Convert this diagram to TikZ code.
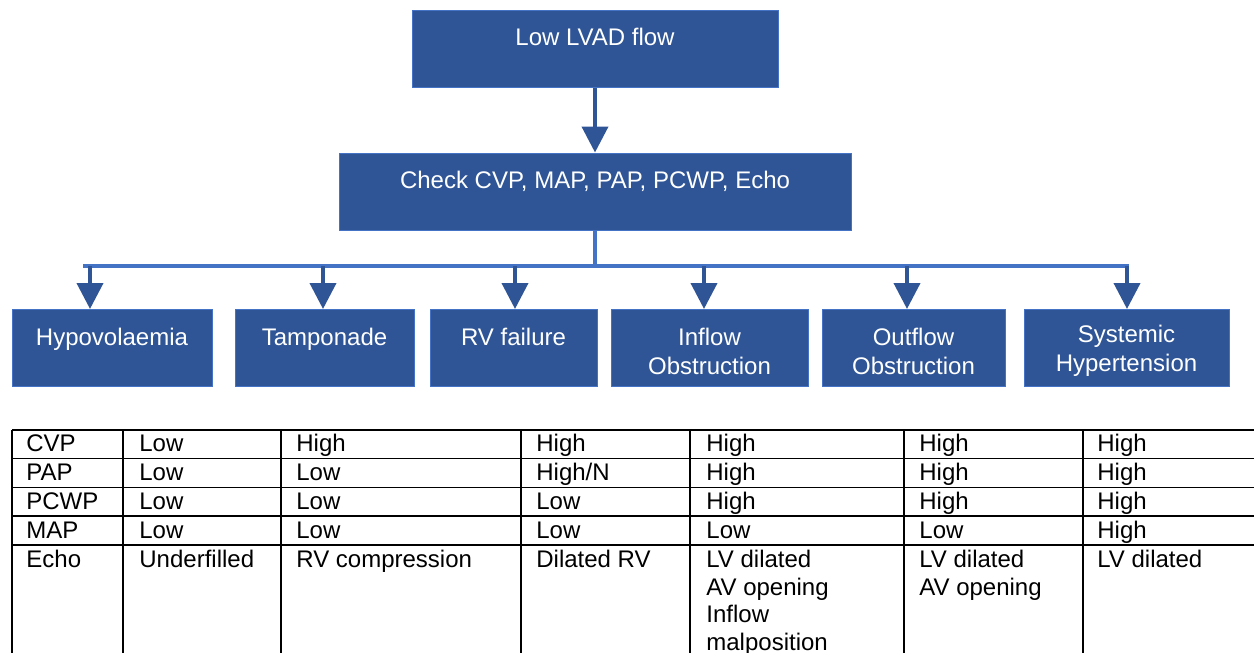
\documentclass[tikz,border=0pt]{standalone}
\usepackage{fontspec}
\setmainfont{Liberation Sans}
\usetikzlibrary{arrows.meta}
\definecolor{boxblue}{HTML}{2F5597}
\definecolor{linkblue}{HTML}{4472C4}
\newcommand{\topgap}{\rule{0pt}{11.8pt}}
\tikzset{
  box/.style={draw=linkblue, line width=0.5pt, fill=boxblue, text=white, align=center,
    inner sep=0pt, minimum height=38.5pt, font=\fontsize{12}{14.5}\selectfont},
  arr/.style={draw=boxblue, line width=2pt, -{Triangle[width=13pt,length=13pt]}},
  bus/.style={draw=linkblue, line width=1.6pt},
  grid/.style={draw=black, line width=0.9pt},
  cell/.style={anchor=base west, inner sep=0pt, font=\fontsize{12}{13.8}\selectfont},
}
\begin{document}
\begin{tikzpicture}[x=0.5pt,y=-0.5pt]
\useasboundingbox (0,0) rectangle (1254,653);
% flow chart
\node (low) at (595,48.5) [box,minimum width=183pt]{\topgap Low LVAD flow\\\phantom{X}};
\node (check) at (595,191.5) [box,minimum width=256pt]{\topgap Check CVP, MAP, PAP, PCWP, Echo\\\phantom{X}};
\node (hypo) at (112,348) [box,minimum width=100pt]{\topgap Hypovolaemia\\\phantom{X}};
\node (tamp) at (324.5,348) [box,minimum width=89.5pt]{\topgap Tamponade\\\phantom{X}};
\node (rvf) at (513.5,348) [box,minimum width=83.5pt]{\topgap RV failure\\\phantom{X}};
\node (inflow) at (709.5,348) [box,minimum width=98.5pt]{\topgap Inflow\\Obstruction};
\node (outflow) at (913.5,348) [box,minimum width=91.5pt]{\topgap Outflow\\Obstruction};
\node (sysht) at (1126.5,348) [box,minimum width=102.5pt]{\topgap Systemic\\Hypertension};
\coordinate (busL) at (83,266);
\coordinate (busR) at (1129,266);
\draw [arr] (low.south) -- (check.north);
\draw [bus] (check.south) -- (check.south |- busL);
\draw [bus] (busL) -- (busR);
\foreach \n/\x in {hypo/90,tamp/323,rvf/515,inflow/704,outflow/907,sysht/1127}{
  \coordinate (drop-\n) at (\x,266);
  \draw [arr] (drop-\n) -- (drop-\n |- \n.north);
}
% table
\foreach \y in {430,458.5,487.5,516,545}
  \draw [grid] (12,\y) -- (1254,\y);
\foreach \x in {12,123,281,521,690,904,1083}
  \draw [grid] (\x,430) -- (\x,653);
\foreach \t/\x [count=\c] in {CVP/26,Low/139,High/296,High/536,High/706,High/919,High/1097}
  \node [cell] (cvp\c) at (\x,451.5) {\t};
\foreach \t/\x [count=\c] in {PAP/26,Low/139,Low/296,{High/N}/536,High/706,High/919,High/1097}
  \node [cell] (pap\c) at (\x,480) {\t};
\foreach \t/\x [count=\c] in {PCWP/26,Low/139,Low/296,Low/536,High/706,High/919,High/1097}
  \node [cell] (pcwp\c) at (\x,509) {\t};
\foreach \t/\x [count=\c] in {MAP/26,Low/139,Low/296,Low/536,Low/706,Low/919,High/1097}
  \node [cell] (map\c) at (\x,538) {\t};
\foreach \t/\x [count=\c] in {Echo/26,Underfilled/139,RV compression/296,Dilated RV/536,LV dilated/706,LV dilated/919,LV dilated/1097}
  \node [cell] (echo\c) at (\x,567.5) {\t};
\node [cell] (echo5b) at (706,595) {AV opening};
\node [cell] (echo5c) at (706,622.5) {Inflow};
\node [cell] (echo5d) at (706,650) {malposition};
\node [cell] (echo6b) at (919,595) {AV opening};
\end{tikzpicture}
\end{document}
